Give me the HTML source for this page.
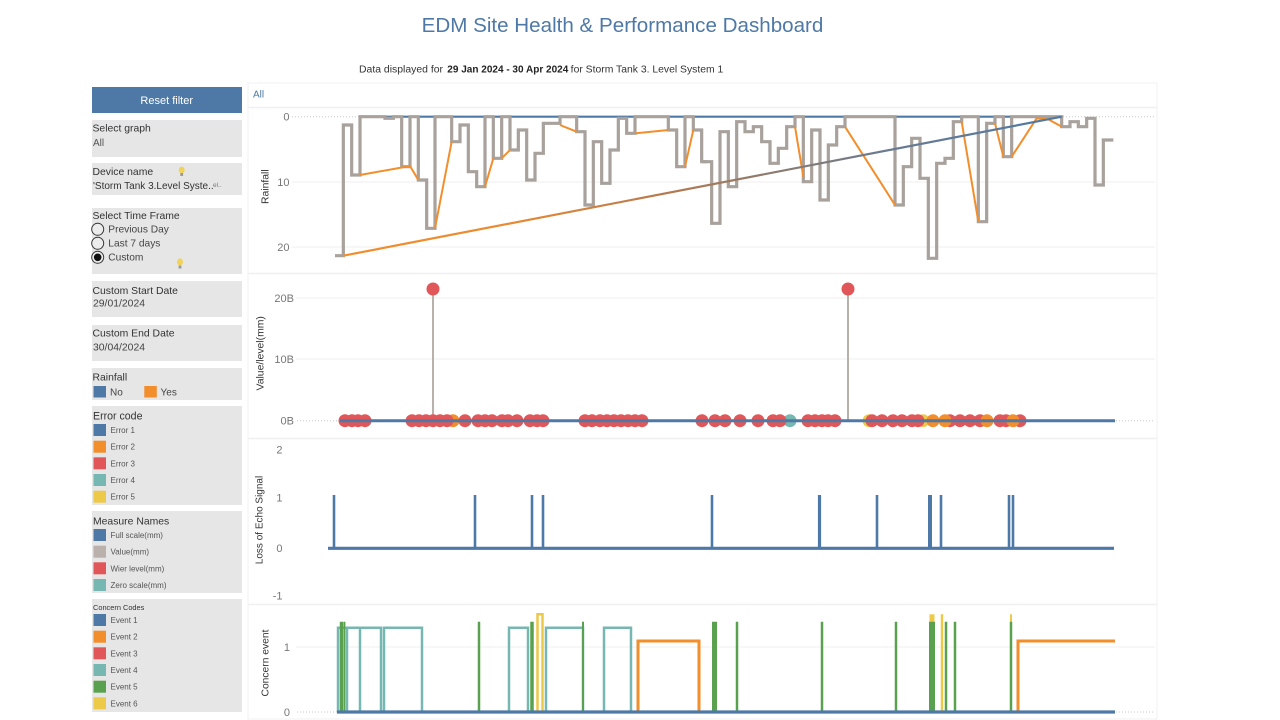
<!DOCTYPE html>
<html>
<head>
<meta charset="utf-8">
<style>
html,body{margin:0;padding:0;background:#fff;}
svg{display:block;font-family:"Liberation Sans",Arial,sans-serif;}
</style>
</head>
<body>
<svg width="1280" height="720" viewBox="0 0 1280 720" xmlns="http://www.w3.org/2000/svg">
<defs>
<linearGradient id="gd" gradientUnits="userSpaceOnUse" x1="343" y1="0" x2="1062" y2="0">
<stop offset="0" stop-color="#f28e2b"/>
<stop offset="0.22" stop-color="#ea8b31"/>
<stop offset="0.45" stop-color="#b57a50"/>
<stop offset="0.6" stop-color="#8c7a70"/>
<stop offset="0.75" stop-color="#6a7a90"/>
<stop offset="1" stop-color="#4e79a7"/>
</linearGradient>
</defs>
<rect width="1280" height="720" fill="#fff"/>

<!-- Title -->
<text x="622.5" y="32" font-size="20.6" fill="#4e79a7" text-anchor="middle">EDM Site Health &amp; Performance Dashboard</text>
<text x="359" y="72.5" font-size="9.8" fill="#333" textLength="84" lengthAdjust="spacingAndGlyphs">Data displayed for</text>
<text x="447.3" y="72.5" font-size="9.8" fill="#222" font-weight="bold" textLength="121" lengthAdjust="spacingAndGlyphs">29 Jan 2024 - 30 Apr 2024</text>
<text x="570.7" y="72.5" font-size="9.8" fill="#333" textLength="152.6" lengthAdjust="spacingAndGlyphs">for Storm Tank 3. Level System 1</text>

<!-- Sidebar -->
<rect x="92" y="87" width="150" height="26" fill="#4e79a7"/>
<text x="166.7" y="104" font-size="11" fill="#fff" text-anchor="middle">Reset filter</text>

<rect x="92" y="120" width="150" height="37" fill="#e6e6e6"/>
<text x="92.5" y="131.7" font-size="10.4" fill="#333">Select graph</text>
<text x="93" y="146" font-size="10" fill="#555">All</text>

<rect x="92" y="163" width="150" height="32" fill="#e6e6e6"/>
<text x="92.5" y="175" font-size="10.4" fill="#333">Device name</text>
<ellipse cx="181.7" cy="170" rx="3" ry="3.4" fill="#f2d35a"/>
<rect x="180.3" y="173" width="2.8" height="3" fill="#9a9a9a"/>
<text x="93" y="189" font-size="10" fill="#333">'Storm Tank 3.Level Syste..</text>
<text x="213" y="187" font-size="6.5" fill="#777">el..</text>

<rect x="92" y="208" width="150" height="66" fill="#e6e6e6"/>
<text x="92.5" y="219" font-size="10.4" fill="#333">Select Time Frame</text>
<circle cx="97.7" cy="229.3" r="6" fill="#ececec" stroke="#333" stroke-width="1"/>
<circle cx="97.7" cy="243.3" r="6" fill="#ececec" stroke="#333" stroke-width="1"/>
<circle cx="97.7" cy="257.3" r="6" fill="#ececec" stroke="#333" stroke-width="1"/>
<circle cx="97.7" cy="257.3" r="3.8" fill="#111"/>
<text x="108.3" y="232.7" font-size="10.2" fill="#444">Previous Day</text>
<text x="108.3" y="246.7" font-size="10.2" fill="#444">Last 7 days</text>
<text x="108.3" y="260.7" font-size="10.2" fill="#444">Custom</text>
<ellipse cx="180" cy="262" rx="3" ry="3.6" fill="#f2d35a"/>
<rect x="178.6" y="265.5" width="2.8" height="3" fill="#9a9a9a"/>

<rect x="92" y="281" width="150" height="36" fill="#e6e6e6"/>
<text x="92.5" y="294" font-size="10.4" fill="#333">Custom Start Date</text>
<text x="93" y="306.5" font-size="10.4" fill="#444">29/01/2024</text>

<rect x="92" y="325" width="150" height="36" fill="#e6e6e6"/>
<text x="92.5" y="336.5" font-size="10.4" fill="#333">Custom End Date</text>
<text x="93" y="350.5" font-size="10.4" fill="#444">30/04/2024</text>

<rect x="92" y="368" width="150" height="32" fill="#e6e6e6"/>
<text x="92.5" y="380.5" font-size="10.4" fill="#333">Rainfall</text>
<rect x="93.5" y="386" width="12.5" height="11.5" fill="#4e79a7"/>
<text x="110" y="395.5" font-size="10" fill="#444">No</text>
<rect x="144.3" y="386" width="12.5" height="11.5" fill="#f28e2b"/>
<text x="160.5" y="395.5" font-size="10" fill="#444">Yes</text>

<rect x="92" y="406" width="150" height="99" fill="#e6e6e6"/>
<text x="93" y="419.5" font-size="10.6" fill="#333">Error code</text>
<rect x="93.5" y="424" width="12.5" height="12" fill="#4e79a7"/>
<rect x="93.5" y="440.7" width="12.5" height="12" fill="#f28e2b"/>
<rect x="93.5" y="457.3" width="12.5" height="12" fill="#e15759"/>
<rect x="93.5" y="474" width="12.5" height="12" fill="#76b7b2"/>
<rect x="93.5" y="490.7" width="12.5" height="12" fill="#edc948"/>
<g font-size="8" fill="#555">
<text x="110.5" y="433">Error 1</text>
<text x="110.5" y="449.7">Error 2</text>
<text x="110.5" y="466.3">Error 3</text>
<text x="110.5" y="483">Error 4</text>
<text x="110.5" y="499.7">Error 5</text>
</g>

<rect x="92" y="511" width="150" height="82" fill="#e6e6e6"/>
<text x="93" y="524.5" font-size="10.4" fill="#333">Measure Names</text>
<rect x="93.5" y="529" width="12.5" height="12" fill="#4e79a7"/>
<rect x="93.5" y="545.7" width="12.5" height="12" fill="#bab0ac"/>
<rect x="93.5" y="562.3" width="12.5" height="12" fill="#e15759"/>
<rect x="93.5" y="579" width="12.5" height="12" fill="#76b7b2"/>
<g font-size="8" fill="#555">
<text x="110.5" y="538">Full scale(mm)</text>
<text x="110.5" y="554.7">Value(mm)</text>
<text x="110.5" y="571.3">Wier level(mm)</text>
<text x="110.5" y="588">Zero scale(mm)</text>
</g>

<rect x="92" y="599" width="150" height="113" fill="#e6e6e6"/>
<text x="93" y="610" font-size="7.4" fill="#333">Concern Codes</text>
<rect x="93.5" y="614" width="12.5" height="12" fill="#4e79a7"/>
<rect x="93.5" y="630.7" width="12.5" height="12" fill="#f28e2b"/>
<rect x="93.5" y="647.3" width="12.5" height="12" fill="#e15759"/>
<rect x="93.5" y="664" width="12.5" height="12" fill="#76b7b2"/>
<rect x="93.5" y="680.7" width="12.5" height="12" fill="#59a14f"/>
<rect x="93.5" y="697.3" width="12.5" height="12" fill="#edc948"/>
<g font-size="8" fill="#555">
<text x="110.5" y="623">Event 1</text>
<text x="110.5" y="639.7">Event 2</text>
<text x="110.5" y="656.3">Event 3</text>
<text x="110.5" y="673">Event 4</text>
<text x="110.5" y="689.7">Event 5</text>
<text x="110.5" y="706.3">Event 6</text>
</g>

<!-- Chart area frame -->
<rect x="248" y="83" width="909" height="636" fill="none" stroke="#f0f0f0" stroke-width="1"/>
<g stroke="#f0f0f0" stroke-width="1.5">
<line x1="248" y1="107.5" x2="1157" y2="107.5"/>
<line x1="248" y1="273.5" x2="1157" y2="273.5"/>
<line x1="248" y1="438.5" x2="1157" y2="438.5"/>
<line x1="248" y1="604.5" x2="1157" y2="604.5"/>
</g>
<text x="253" y="97.5" font-size="10" fill="#4e79a7">All</text>

<!-- ========== Chart 1: Rainfall ========== -->
<g stroke="#efefef" stroke-width="1">
<line x1="292" y1="182" x2="1155" y2="182"/>
<line x1="292" y1="247" x2="1155" y2="247"/>
</g>
<line x1="292" y1="116.7" x2="1155" y2="116.7" stroke="#c8c8c8" stroke-width="1" stroke-dasharray="1,2"/>
<g font-size="11" fill="#777" text-anchor="end">
<text x="289.5" y="120.7">0</text>
<text x="289.5" y="186">10</text>
<text x="289.5" y="251">20</text>
</g>
<text transform="translate(265,186.7) rotate(-90)" x="0" y="3.7" font-size="10.4" fill="#333" text-anchor="middle">Rainfall</text>

<line x1="360" y1="116.7" x2="1062" y2="116.7" stroke="#4e79a7" stroke-width="2.2"/>

<g transform="translate(245,80) scale(0.333333)">
<path vector-effect="non-scaling-stroke" fill="none" stroke="#a8a19c" stroke-width="3.2" d="M270,527 H295 V135 H320 V285 H345 V110 H420 V115 H445 V110 H470 V260 H495 V110 H520 V300 H545 V445 H570 V110 H620 V185 H645 V135 H670 V275 H695 V320 H720 V110 H745 V235 H770 V110 H795 V210 H820 V150 H845 V300 H870 V220 H895 V130 H945 V110 H995 V155 H1020 V375 H1045 V185 H1070 V310 H1095 V210 H1120 V115 H1145 V160 H1170 V110 H1270 V150 H1295 V260 H1320 V110 H1345 V150 H1370 V245 H1385"/>
<g vector-effect="non-scaling-stroke" fill="none" stroke="#f28e2b" stroke-width="2">
<path vector-effect="non-scaling-stroke" d="M345,285 L495,258 L520,300"/>
<path vector-effect="non-scaling-stroke" d="M570,445 L620,185"/>
<path vector-effect="non-scaling-stroke" d="M720,320 L745,235"/>
<path vector-effect="non-scaling-stroke" d="M770,235 L795,210"/>
<path vector-effect="non-scaling-stroke" d="M945,135 L995,155"/>
<path vector-effect="non-scaling-stroke" d="M1170,160 L1270,150"/>
<path vector-effect="non-scaling-stroke" d="M1320,260 L1345,150"/>
</g>
</g>
<g transform="translate(700,80) scale(0.333333)">
<path vector-effect="non-scaling-stroke" fill="none" stroke="#a8a19c" stroke-width="3.2" d="M5,245 H35 V430 H60 V155 H85 V320 H110 V125 H135 V155 H160 V140 H185 V185 H210 V250 H235 V205 H260 V140 H285 V110 H310 V305 H335 V150 H360 V360 H385 V195 H410 V140 H435 V110 H585 V375 H610 V260 H635 V175 H660 V295 H685 V535 H710 V250 H735 V235 H760 V125 H785 V110 H835 V425 H860 V130 H885 V110 H910 V230 H935 V110 H1085 V140 H1110 V125 H1135 V140 H1160 V115 H1185 V315 H1210 V180 H1240"/>
<g fill="none" stroke="#f28e2b" stroke-width="2">
<path vector-effect="non-scaling-stroke" d="M285,140 L310,290"/>
<path vector-effect="non-scaling-stroke" d="M435,140 L585,375"/>
<path vector-effect="non-scaling-stroke" d="M785,125 L835,425"/>
<path vector-effect="non-scaling-stroke" d="M885,130 L910,230"/>
<path vector-effect="non-scaling-stroke" d="M935,230 L1010,115 L1045,118 L1085,140"/>
</g>
</g>
<line x1="343.3" y1="255.7" x2="1061.7" y2="116.7" stroke="url(#gd)" stroke-width="2.2"/>

<!-- ========== Chart 2: Value/level ========== -->
<g stroke="#efefef" stroke-width="1">
<line x1="296" y1="298" x2="1155" y2="298"/>
<line x1="296" y1="359" x2="1155" y2="359"/>
</g>
<line x1="297" y1="420.7" x2="1155" y2="420.7" stroke="#c8c8c8" stroke-width="1" stroke-dasharray="1,2"/>
<g font-size="11" fill="#777" text-anchor="end">
<text x="294" y="302">20B</text>
<text x="294" y="363">10B</text>
<text x="294" y="424.7">0B</text>
</g>
<text transform="translate(259.7,353.3) rotate(-90)" x="0" y="3.7" font-size="10.4" fill="#333" text-anchor="middle">Value/level(mm)</text>

<g stroke="#b8b0ab" stroke-width="2">
<line x1="433" y1="420.7" x2="433" y2="289"/>
<line x1="848" y1="420.7" x2="848" y2="289"/>
</g>
<circle cx="433" cy="289" r="6.5" fill="#e15759"/>
<circle cx="848" cy="289" r="6.5" fill="#e15759"/>

<g fill="#f28e2b">
<circle cx="453" cy="420.7" r="6.5"/>
</g>
<g fill="#edc948">
<circle cx="869" cy="420.7" r="6.5"/>
<circle cx="923" cy="420.7" r="6.5"/>
</g>
<g fill="#e15759">
<circle cx="345" cy="420.7" r="6.5"/><circle cx="352" cy="420.7" r="6.5"/><circle cx="358" cy="420.7" r="6.5"/><circle cx="365" cy="420.7" r="6.5"/>
<circle cx="412" cy="420.7" r="6.5"/><circle cx="419" cy="420.7" r="6.5"/><circle cx="426" cy="420.7" r="6.5"/><circle cx="433" cy="420.7" r="6.5"/><circle cx="440" cy="420.7" r="6.5"/><circle cx="447" cy="420.7" r="6.5"/>
<circle cx="465" cy="420.7" r="6.5"/><circle cx="478" cy="420.7" r="6.5"/><circle cx="485" cy="420.7" r="6.5"/><circle cx="492" cy="420.7" r="6.5"/>
<circle cx="502" cy="420.7" r="6.5"/><circle cx="508" cy="420.7" r="6.5"/><circle cx="517" cy="420.7" r="6.5"/><circle cx="530" cy="420.7" r="6.5"/><circle cx="537" cy="420.7" r="6.5"/><circle cx="543" cy="420.7" r="6.5"/>
<circle cx="585" cy="420.7" r="6.5"/><circle cx="592" cy="420.7" r="6.5"/><circle cx="600" cy="420.7" r="6.5"/><circle cx="607" cy="420.7" r="6.5"/><circle cx="614" cy="420.7" r="6.5"/><circle cx="621" cy="420.7" r="6.5"/><circle cx="628" cy="420.7" r="6.5"/><circle cx="635" cy="420.7" r="6.5"/><circle cx="642" cy="420.7" r="6.5"/>
<circle cx="702" cy="420.7" r="6.5"/><circle cx="715" cy="420.7" r="6.5"/><circle cx="725" cy="420.7" r="6.5"/><circle cx="740" cy="420.7" r="6.5"/>
<circle cx="758" cy="420.7" r="6.5"/>
<circle cx="773" cy="420.7" r="6.5"/>
</g>
<circle cx="790" cy="420.7" r="6.5" fill="#76b7b2"/>
<g fill="#e15759">
<circle cx="780" cy="420.7" r="6.5"/>
<circle cx="808" cy="420.7" r="6.5"/><circle cx="815" cy="420.7" r="6.5"/><circle cx="822" cy="420.7" r="6.5"/><circle cx="828" cy="420.7" r="6.5"/><circle cx="835" cy="420.7" r="6.5"/>
<circle cx="872" cy="420.7" r="6.5"/><circle cx="882" cy="420.7" r="6.5"/><circle cx="893" cy="420.7" r="6.5"/><circle cx="902" cy="420.7" r="6.5"/><circle cx="912" cy="420.7" r="6.5"/><circle cx="918" cy="420.7" r="6.5"/>
<circle cx="950" cy="420.7" r="6.5"/><circle cx="960" cy="420.7" r="6.5"/><circle cx="970" cy="420.7" r="6.5"/><circle cx="980" cy="420.7" r="6.5"/><circle cx="1000" cy="420.7" r="6.5"/><circle cx="1006" cy="420.7" r="6.5"/><circle cx="1020" cy="420.7" r="6.5"/>
</g>
<g fill="#f28e2b">
<circle cx="933" cy="420.7" r="6.5"/><circle cx="945" cy="420.7" r="6.5"/><circle cx="987" cy="420.7" r="6.5"/><circle cx="1013" cy="420.7" r="6.5"/>
</g>
<line x1="340" y1="420.7" x2="1115" y2="420.7" stroke="#4e79a7" stroke-width="3"/>

<!-- ========== Chart 3: Loss of Echo Signal ========== -->
<g font-size="11" fill="#777" text-anchor="end">
<text x="282.5" y="453.5">2</text>
<text x="282.5" y="501.5">1</text>
<text x="282.5" y="552">0</text>
<text x="282.5" y="599.5">-1</text>
</g>
<text transform="translate(258.7,520) rotate(-90)" x="0" y="3.7" font-size="10" fill="#333" text-anchor="middle">Loss of Echo Signal</text>
<g stroke="#4e79a7" stroke-width="2.6">
<line x1="334" y1="548.3" x2="334" y2="495"/>
<line x1="475" y1="548.3" x2="475" y2="495"/>
<line x1="532" y1="548.3" x2="532" y2="495"/>
<line x1="543" y1="548.3" x2="543" y2="495"/>
<line x1="712" y1="548.3" x2="712" y2="495"/>
<line x1="819.5" y1="548.3" x2="819.5" y2="495" stroke-width="3.2"/>
<line x1="877" y1="548.3" x2="877" y2="495"/>
<line x1="930" y1="548.3" x2="930" y2="495" stroke-width="4"/>
<line x1="941" y1="548.3" x2="941" y2="495"/>
<line x1="1009" y1="548.3" x2="1009" y2="495"/>
<line x1="1013" y1="548.3" x2="1013" y2="495"/>
</g>
<line x1="328" y1="548.3" x2="1114" y2="548.3" stroke="#4e79a7" stroke-width="3.2"/>

<!-- ========== Chart 4: Concern event ========== -->
<line x1="296" y1="647" x2="1155" y2="647" stroke="#efefef" stroke-width="1"/>
<line x1="297" y1="712" x2="1155" y2="712" stroke="#c8c8c8" stroke-width="1" stroke-dasharray="1,2"/>
<g font-size="11" fill="#777" text-anchor="end">
<text x="290" y="651">1</text>
<text x="290" y="716">0</text>
</g>
<text transform="translate(265,663) rotate(-90)" x="0" y="3.7" font-size="10.3" fill="#333" text-anchor="middle">Concern event</text>

<g fill="none" stroke="#76b7b2" stroke-width="2.5">
<path d="M338,712 V627.7 H346"/>
<path d="M347,712 V627.7 H381 V712 M360,712 V627.7"/>
<path d="M384,712 V627.7 H422 V712"/>
<path d="M509,712 V627.7 H528 V712"/>
<path d="M546,712 V627.7 H583 V712"/>
<path d="M604,712 V627.7 H631 V712"/>
</g>
<g fill="none" stroke="#f28e2b" stroke-width="3">
<path d="M638,712 V641 H699 V712"/>
<path d="M1018,712 V641 H1115"/>
</g>
<g stroke="#edc948">
<path d="M537.5,712 V614.3 H542.5 V712" fill="none" stroke-width="2.5"/>
<line x1="932" y1="622" x2="932" y2="614.3" stroke-width="5"/>
<line x1="942" y1="712" x2="942" y2="614.3" stroke-width="2.5"/>
<line x1="1011" y1="622" x2="1011" y2="614.3" stroke-width="2"/>
</g>
<g stroke="#59a14f">
<line x1="341.5" y1="712" x2="341.5" y2="621.7" stroke-width="3.5"/>
<line x1="344.5" y1="712" x2="344.5" y2="621.7" stroke-width="1.8"/>
<line x1="479" y1="712" x2="479" y2="621.7" stroke-width="2.5"/>
<line x1="532" y1="712" x2="532" y2="621.7" stroke-width="3.5"/>
<line x1="583" y1="712" x2="583" y2="621.7" stroke-width="2"/>
<line x1="714.5" y1="712" x2="714.5" y2="621.7" stroke-width="5"/>
<line x1="737" y1="712" x2="737" y2="621.7" stroke-width="2.5"/>
<line x1="822" y1="712" x2="822" y2="621.7" stroke-width="2.5"/>
<line x1="896" y1="712" x2="896" y2="621.7" stroke-width="2.5"/>
<line x1="932" y1="712" x2="932" y2="621.7" stroke-width="6"/>
<line x1="946" y1="712" x2="946" y2="621.7" stroke-width="2.5"/>
<line x1="955" y1="712" x2="955" y2="621.7" stroke-width="2.5"/>
<line x1="1011" y1="712" x2="1011" y2="621.7" stroke-width="2.5"/>
</g>
<line x1="337" y1="712" x2="1115" y2="712" stroke="#4e79a7" stroke-width="3.2"/>
</svg>
</body>
</html>
